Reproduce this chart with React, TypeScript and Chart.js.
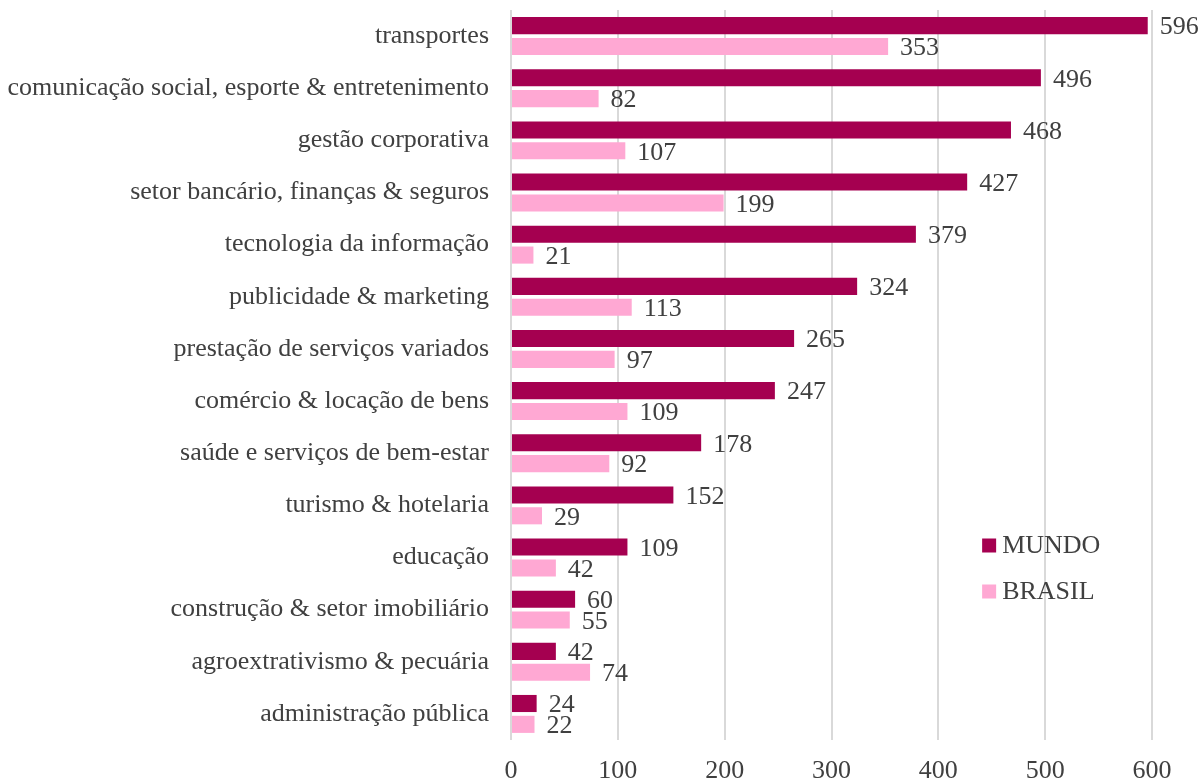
import React, { useEffect, useRef } from "react";
import { Chart, registerables } from "chart.js";

Chart.register(...registerables);

const categories = [
  "transportes",
  "comunicação social, esporte & entretenimento",
  "gestão corporativa",
  "setor bancário, finanças & seguros",
  "tecnologia da informação",
  "publicidade & marketing",
  "prestação de serviços variados",
  "comércio & locação de bens",
  "saúde e serviços de bem-estar",
  "turismo & hotelaria",
  "educação",
  "construção & setor imobiliário",
  "agroextrativismo & pecuária",
  "administração pública",
];
const mundo = [596, 496, 468, 427, 379, 324, 265, 247, 178, 152, 109, 60, 42, 24];
const brasil = [353, 82, 107, 199, 21, 113, 97, 109, 92, 29, 42, 55, 74, 22];
const seriesNames = ["MUNDO", "BRASIL"];
const xTicks = [0, 100, 200, 300, 400, 500, 600];

const COLORS = ["#A50050", "#FFA8D3"];
const TEXT = "#404040";
const FONT_FAMILY = "'Liberation Serif', 'DejaVu Serif', serif";
const FONT_SIZE = 26;

const labelsPlugin = {
  id: "valueLabels",
  afterDatasetsDraw(chart: any) {
    const ctx = chart.ctx;
    ctx.save();
    ctx.font = `${FONT_SIZE}px ${FONT_FAMILY}`;
    ctx.fillStyle = TEXT;
    ctx.textAlign = "left";
    ctx.textBaseline = "middle";
    chart.data.datasets.forEach((ds: any, di: number) => {
      const meta = chart.getDatasetMeta(di);
      meta.data.forEach((el: any, i: number) => {
        ctx.fillText(String(ds.data[i]), el.x + 12, el.y + 2);
      });
    });
    ctx.restore();
  },
};

const legendPlugin = {
  id: "insideLegend",
  afterDraw(chart: any) {
    const ctx = chart.ctx;
    const xScale = chart.scales.x;
    const yScale = chart.scales.y;
    ctx.save();
    ctx.font = `${FONT_SIZE}px ${FONT_FAMILY}`;
    ctx.textAlign = "left";
    ctx.textBaseline = "middle";
    const x0 = xScale.getPixelForValue(441);
    const yTop = yScale.getPixelForValue(10) - 12;
    seriesNames.forEach((name, i) => {
      const y = yTop + i * 46;
      ctx.fillStyle = COLORS[i];
      ctx.fillRect(x0, y - 7, 14, 14);
      ctx.fillStyle = TEXT;
      ctx.fillText(name, x0 + 20, y + 1);
    });
    ctx.restore();
  },
};

export default function App() {
  const ref = useRef<HTMLCanvasElement>(null);
  useEffect(() => {
    document.body.style.margin = "0";
    const chart = new Chart(ref.current as HTMLCanvasElement, {
      type: "bar",
      data: {
        labels: categories,
        datasets: [
          {
            label: seriesNames[0],
            data: mundo,
            backgroundColor: COLORS[0],
            categoryPercentage: 0.8,
            barPercentage: 0.82,
          },
          {
            label: seriesNames[1],
            data: brasil,
            backgroundColor: COLORS[1],
            categoryPercentage: 0.8,
            barPercentage: 0.82,
          },
        ],
      },
      options: {
        indexAxis: "y",
        animation: false,
        responsive: true,
        maintainAspectRatio: false,
        layout: { padding: { top: 10, right: 49, bottom: 0, left: 0 } },
        plugins: {
          legend: { display: false },
          tooltip: { enabled: false },
        },
        scales: {
          x: {
            min: 0,
            max: 600,
            afterBuildTicks: (scale: any) => {
              scale.ticks = xTicks.map((v) => ({ value: v }));
            },
            afterFit: (scale: any) => {
              scale.height = 41;
              scale.paddingLeft = 0;
              scale.paddingRight = 0;
            },
            grid: { color: "#D9D9D9", lineWidth: 2, drawTicks: false },
            border: { display: false },
            ticks: {
              color: TEXT,
              padding: 16,
              font: { family: FONT_FAMILY, size: FONT_SIZE },
            },
          },
          y: {
            afterFit: (scale: any) => {
              scale.width = 511;
              scale.paddingTop = 0;
              scale.paddingBottom = 0;
            },
            grid: { display: false, drawTicks: false },
            border: { display: false },
            ticks: {
              color: TEXT,
              padding: 22,
              font: { family: FONT_FAMILY, size: FONT_SIZE },
            },
          },
        },
      },
      plugins: [labelsPlugin, legendPlugin],
    } as any);
    return () => chart.destroy();
  }, []);
  return (
    <div style={{ position: "fixed", left: 0, top: 0, width: 1201, height: 781 }}>
      <canvas ref={ref} />
    </div>
  );
}
